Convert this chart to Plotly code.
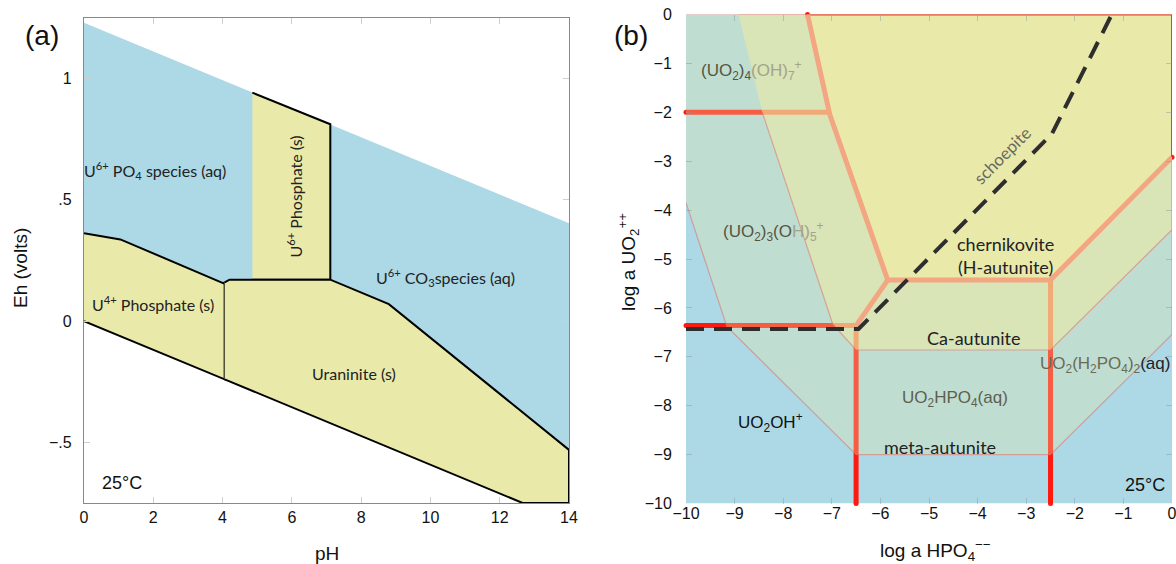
import plotly.graph_objects as go

# ---------------- Panel (a): Eh-pH diagram ----------------
blue_a_ph = [0, 14, 14, 12.66, 0]
blue_a_eh = [1.23, 0.404, -0.75, -0.75, 0]
u4_ph = [0, 1.05, 4.03, 4.06, 4.06, 0]
u4_eh = [0.362, 0.337, 0.156, 0.16, -0.24, 0]
u6_ph = [4.86, 7.11, 7.11, 4.86]
u6_eh = [0.942, 0.812, 0.171, 0.171]
ur_ph = [4.06, 4.2, 7.11, 8.8, 14, 14, 12.66, 4.06]
ur_eh = [0.16, 0.171, 0.171, 0.07, -0.531, -0.75, -0.75, -0.24]
a_xticks = [0, 2, 4, 6, 8, 10, 12, 14]
a_yticks = [-0.5, 0, 0.5, 1]
a_yticktext = ["\u2212.5", "0", ".5", "1"]

# ---------------- Panel (b): activity diagram ----------------
bg_x = [-10, 0, 0, -10]
bg_y = [0, 0, -10, -10]
r1_x = [-10, 0, 0, -2.5, -6.5, -9.16, -10]
r1_y = [0, 0, -6.54, -9.0, -9.0, -6.38, -3.85]
r2_x = [-8.92, 0, 0, -2.5, -6.5, -6.98, -8.43]
r2_y = [0, 0, -4.4, -6.86, -6.86, -6.33, -2.0]
r3_x = [-7.5, 0, 0, -2.5, -5.85, -7.04]
r3_y = [0, 0, -2.92, -5.43, -5.43, -2.05]
red_x = [-10, -7.04, None, -10, -6.5, None, -6.5, -6.5, None, -2.5, -2.5]
red_y = [-2.0, -2.0, None, -6.36, -6.36, None, -6.36, -10, None, -5.43, -10]
sal_x = [-7.5, -7.04, -5.85, -2.5, 0, None, -5.85, -6.5]
sal_y = [0, -2.05, -5.43, -5.43, -2.92, None, -5.43, -6.36]
thin_x = [-7.5, 0, 0]
thin_y = [0, 0, -2.92]
dot_x = [-10, -10, -7.5, 0, -6.5, -2.5]
dot_y = [-2.0, -6.36, 0, -2.92, -10, -10]
sch_x = [-10, -6.45, -2.47, -1.24]
sch_y = [-6.43, -6.43, -2.44, 0]
b_ticks = list(range(-10, 1))

BLUE = "#ADD8E6"
YEL = "#E9E9AA"
TXT = "Lato"
TICKF = "Liberation Sans"

fig = go.Figure()

def poly(x, y, fill, line_color, width, xa="x", ya="y"):
    fig.add_trace(go.Scatter(x=x, y=y, fill="toself", fillcolor=fill, mode="lines",
                             line=dict(color=line_color, width=width),
                             xaxis=xa, yaxis=ya, hoverinfo="skip", showlegend=False))

# panel a
poly(blue_a_ph, blue_a_eh, BLUE, "rgba(0,0,0,0)", 0)
poly(u4_ph, u4_eh, YEL, "black", 2)
poly(u6_ph, u6_eh, YEL, "black", 2)
poly(ur_ph, ur_eh, YEL, "black", 2)

# panel b
poly(bg_x, bg_y, BLUE, "rgba(0,0,0,0)", 0, "x2", "y2")
fig.add_trace(go.Scatter(x=red_x, y=red_y, mode="lines", line=dict(color="#FF1A10", width=5),
                         xaxis="x2", yaxis="y2", hoverinfo="skip", showlegend=False, cliponaxis=False))
fig.add_trace(go.Scatter(x=dot_x, y=dot_y, mode="markers", marker=dict(color="#FF1A10", size=5),
                         xaxis="x2", yaxis="y2", hoverinfo="skip", showlegend=False, cliponaxis=False))
poly(r1_x, r1_y, "rgba(232,232,169,0.33)", "rgba(225,110,100,0.55)", 1.2, "x2", "y2")
poly(r2_x, r2_y, "rgba(236,234,160,0.55)", "rgba(225,110,100,0.55)", 1.2, "x2", "y2")
poly(r3_x, r3_y, YEL, "rgba(0,0,0,0)", 0, "x2", "y2")
fig.add_trace(go.Scatter(x=thin_x, y=thin_y, mode="lines", line=dict(color="#F23A2A", width=2),
                         xaxis="x2", yaxis="y2", hoverinfo="skip", showlegend=False, cliponaxis=False))
fig.add_trace(go.Scatter(x=sal_x, y=sal_y, mode="lines", line=dict(color="#F2A682", width=5),
                         xaxis="x2", yaxis="y2", hoverinfo="skip", showlegend=False, cliponaxis=False))
fig.add_trace(go.Scatter(x=sch_x, y=sch_y, mode="lines",
                         line=dict(color="#2E2E2E", width=4, dash="18px,10px"),
                         xaxis="x2", yaxis="y2", hoverinfo="skip", showlegend=False, cliponaxis=False))

W, H = 1176, 564
def px(x):
    return x / W
def py(y):
    return 1 - y / H

ann = []
def A(text, x, y, xref, yref, size=15, color="#222", font=TXT, angle=0, xanchor="center", yanchor="middle"):
    ann.append(dict(text=text, x=x, y=y, xref=xref, yref=yref, showarrow=False,
                    font=dict(size=size, color=color, family=font), textangle=angle,
                    xanchor=xanchor, yanchor=yanchor))

# panel a labels
A("U<sup>6+</sup> PO<sub>4</sub> species (aq)", 2.05, 0.623, "x", "y", 16)
A("U<sup>6+</sup> Phosphate (s)", 6.07, 0.515, "x", "y", 16, angle=-90)
A("U<sup>6+</sup> CO<sub>3</sub>species (aq)", 10.43, 0.181, "x", "y", 16)
A("U<sup>4+</sup> Phosphate (s)", 1.99, 0.073, "x", "y", 16)
A("Uraninite (s)", 7.78, -0.217, "x", "y", 16)
A("25°C", 0.45, -0.669, "x", "y", 18, color="#111", font=TICKF, xanchor="left")
A("(a)", px(42), py(36), "paper", "paper", 28, color="#111", font=TICKF)
A("pH", px(327), py(553), "paper", "paper", 19, color="#111", font=TICKF)
A("Eh (volts)", px(20), py(268), "paper", "paper", 19, color="#111", font=TICKF, angle=-90)

# panel b labels
A("<span style='color:#55553f'>(UO<sub>2</sub>)<sub>4</sub></span><span style='color:#a3a38a'>(OH)<sub>7</sub><sup>+</sup></span>",
  -8.66, -1.15, "x2", "y2", 17, font=TICKF)
A("<span style='color:#55553f'>(UO<sub>2</sub>)<sub>3</sub>(O</span><span style='color:#a3a38a'>H)<sub>5</sub><sup>+</sup></span>",
  -8.2, -4.43, "x2", "y2", 17, font=TICKF)
A("chernikovite<br>(H-autunite)", -4.47, -4.92, "x2", "y2", 18, xanchor="left")
A("Ca-autunite", -4.09, -6.61, "x2", "y2", 18)
A("<span style='color:#6b6b55'>UO<sub>2</sub>(H<sub>2</sub>PO<sub>4</sub>)<sub>2</sub></span>(aq)",
  0.0, -7.17, "x2", "y2", 17, font=TICKF, xanchor="right")
A("UO<sub>2</sub>HPO<sub>4</sub>(aq)", -4.47, -7.87, "x2", "y2", 17, color="#5f5f4d", font=TICKF)
A("UO<sub>2</sub>OH<sup>+</sup>", -8.27, -8.35, "x2", "y2", 17, color="#111", font=TICKF)
A("meta-autunite", -4.78, -8.85, "x2", "y2", 18)
A("schoepite", -3.5, -2.88, "x2", "y2", 17, color="#6a6a60", angle=-45)
A("25°C", -0.1, -9.62, "x2", "y2", 18, color="#111", font=TICKF, xanchor="right")
A("(b)", px(631), py(36), "paper", "paper", 28, color="#111", font=TICKF)
A("log a HPO<sub>4</sub><sup>\u2212\u2212</sup>", px(935), py(550), "paper", "paper", 19, color="#111", font=TICKF)
A("log a UO<sub>2</sub><sup>++</sup>", px(628), py(262), "paper", "paper", 19, color="#111", font=TICKF, angle=-90)

axis_common = dict(showgrid=False, zeroline=False, ticks="inside", ticklen=6, automargin=False,
                   ticklabeloverflow="allow",
                   tickfont=dict(family=TICKF, size=16, color="#111"), layer="above traces")

fig.update_layout(
    width=W, height=H, margin=dict(l=0, r=0, t=0, b=0, autoexpand=False),
    paper_bgcolor="white", plot_bgcolor="white", showlegend=False,
    annotations=ann,
    xaxis=dict(domain=[84 / W, 569 / W], range=[0, 14], tickvals=a_xticks, anchor="y",
               showline=True, linecolor="#888", linewidth=1.2, mirror="ticks",
               tickcolor="#d0d0d0", ticklabelstandoff=0, **axis_common),
    yaxis=dict(domain=[1 - 503 / H, 1 - 18 / H], range=[-0.75, 1.25], tickvals=a_yticks,
               ticktext=a_yticktext, anchor="x", showline=True, linecolor="#888", linewidth=1.2,
               mirror="ticks", tickcolor="#d0d0d0", ticklabelstandoff=8, **axis_common),
    xaxis2=dict(domain=[686 / W, 1172 / W], range=[-10, 0], tickvals=b_ticks, anchor="y2",
                showline=True, linecolor="rgba(0,0,0,0)", mirror="ticks",
                tickcolor="rgba(130,150,160,0.45)", ticklabelstandoff=-5, **axis_common),
    yaxis2=dict(domain=[1 - 503.6 / H, 1 - 14.5 / H], range=[-10, 0], tickvals=b_ticks, anchor="x2",
                showline=True, linecolor="rgba(0,0,0,0)", mirror="ticks",
                tickcolor="rgba(130,150,160,0.45)", ticklabelstandoff=10, **axis_common),
)

fig.write_html("out.html", config={"displayModeBar": False},
               post_script="document.body.style.margin='0';document.body.style.padding='0';"
                           "document.body.style.overflow='hidden';")
